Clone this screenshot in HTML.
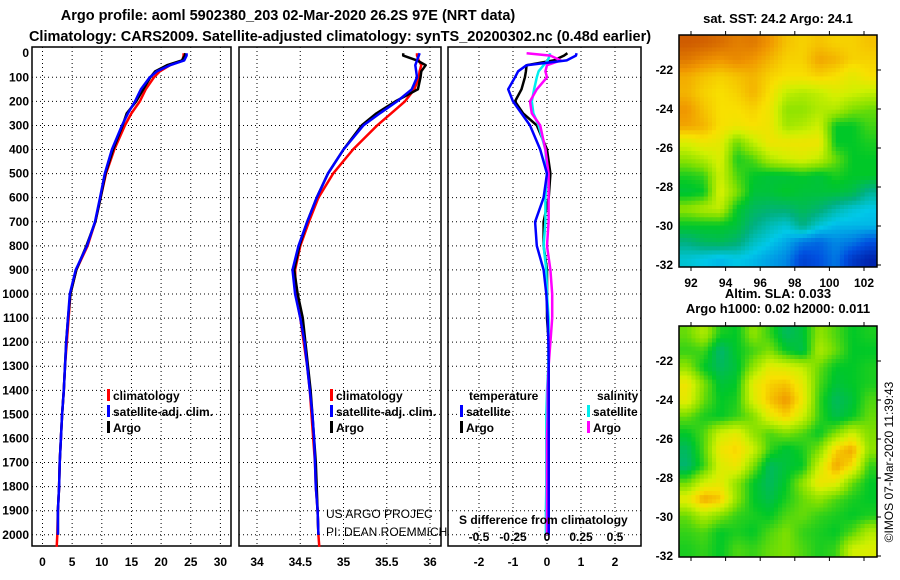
<!DOCTYPE html>
<html><head><meta charset="utf-8"><style>
html,body{margin:0;padding:0;background:#fff;}
svg{display:block;font-family:"Liberation Sans",sans-serif;}
.b{font-weight:bold;font-size:13px;}
.h{font-weight:bold;font-size:14.5px;}
.t{font-weight:bold;font-size:12px;}
</style></head><body>
<svg id="c" width="900" height="580" viewBox="0 0 900 580">
<text class="h" x="288" y="20" text-anchor="middle">Argo profile: aoml 5902380_203 02-Mar-2020 26.2S 97E (NRT data)</text>
<text class="h" x="340" y="41" text-anchor="middle">Climatology: CARS2009. Satellite-adjusted climatology: synTS_20200302.nc (0.48d earlier)</text>
<text class="b" x="778" y="23" text-anchor="middle">sat. SST: 24.2 Argo: 24.1</text>
<text class="b" x="778" y="298" text-anchor="middle">Altim. SLA: 0.033</text>
<text class="b" x="778" y="313" text-anchor="middle">Argo h1000: 0.02 h2000: 0.011</text>
<text x="893" y="462" font-size="12" text-anchor="middle" transform="rotate(-90 893 462)">©IMOS 07-Mar-2020 11:39:43</text>
</svg>
<script>
const depths=[0,10,30,50,75,100,150,200,250,300,400,500,600,700,800,900,1000,1100,1200,1300,1400,1500,1600,1700,1800,1900,2000,2050];
const tempClim=[23.8,23.8,23.6,21.5,19.8,18.8,17.4,16.4,15.0,13.9,12.1,10.7,9.8,8.9,7.6,5.7,4.7,4.4,4.1,3.8,3.6,3.3,3.1,2.9,2.8,2.6,2.5,2.4];
const tempSat=[24.3,24.3,23.9,21.5,19.3,18.1,16.6,15.6,14.4,13.4,11.7,10.5,9.7,8.85,7.5,5.6,4.6,4.3,4.0,3.8,3.6,3.3,3.1,2.9,2.8,2.6,2.6,null];
const tempArgo=[24.1,24.0,23.5,21.0,19.0,18.2,17.0,15.8,14.2,13.5,11.9,10.6,9.8,8.9,7.4,5.7,4.7,4.3,4.0,3.8,3.6,3.3,3.1,2.9,2.8,2.6,2.6,null];
const salClim=[35.85,35.85,35.87,35.9,35.88,35.87,35.82,35.71,35.55,35.39,35.11,34.88,34.71,34.6,34.5,34.44,34.45,34.5,34.54,34.58,34.61,34.63,34.65,34.67,34.68,34.7,34.71,34.72];
const salSat=[35.88,35.87,35.85,35.83,35.84,35.85,35.79,35.62,35.42,35.23,35.0,34.82,34.69,34.58,34.48,34.41,34.44,34.5,34.55,34.58,34.61,34.64,34.66,34.67,34.68,34.7,34.71,null];
const salArgo=[35.69,35.69,35.85,35.95,35.9,35.89,35.86,35.6,35.38,35.21,35.0,34.82,34.69,34.58,34.49,34.43,34.47,34.53,34.56,34.59,34.62,34.64,34.66,34.68,34.69,34.7,34.71,null];
const dTempSat=[0.87,0.85,0.58,-0.6,-0.85,-0.94,-1.14,-1.0,-0.75,-0.5,-0.2,0,-0.1,-0.35,-0.3,-0.1,-0.02,0.02,0.04,0.05,0.05,0.05,0.05,0.05,0.05,0.05,0.05,null];
const dTempArgo=[0.6,0.5,0.2,-0.6,-0.62,-0.65,-0.75,-0.94,-0.7,-0.3,0,0.1,0.05,-0.1,-0.1,0,0,0,0.05,0.05,0.05,0.05,0.05,0.05,0.05,0.05,0.05,null];
const dSalSat=[0.022,0.02,0.005,-0.025,-0.062,-0.075,-0.095,-0.112,-0.1,-0.062,-0.012,0,-0.012,-0.012,-0.025,-0.005,0,0.012,0.012,0.01,0,-0.005,-0.005,-0.005,-0.005,-0.008,-0.008,null];
const dSalArgo=[-0.15,0.025,0.1,0,-0.012,0,-0.075,-0.125,-0.112,-0.05,-0.012,0.012,0.012,0.012,0,0.025,0.038,0.038,0.025,0.012,0.005,0.005,0,0,0,0,0,null];
const depthTicks=[0,100,200,300,400,500,600,700,800,900,1000,1100,1200,1300,1400,1500,1600,1700,1800,1900,2000];
const tempTicks=[0,5,10,15,20,25,30];
const salTicks=[34,34.5,35,35.5,36];
const diffTicks=[-2,-1,0,1,2];
const sDiffTicks=[-0.5,-0.25,0,0.25,0.5];
const sDiffLabels=["-0.5","-0.25","0","0.25","0.5"];
const mapLonTicks=[92,94,96,98,100,102];
const mapLatTicks=[-22,-24,-26,-28,-30,-32];
const sstGrid=[
[.98,.97,.95,.92,.93,.88,.82,.8,.82,.8,.8,.82],
[.93,.9,.88,.9,.88,.84,.8,.8,.86,.84,.8,.8],
[.85,.82,.8,.82,.84,.8,.78,.78,.8,.78,.74,.78],
[.84,.8,.78,.8,.84,.78,.68,.66,.68,.72,.7,.68],
[.88,.82,.78,.78,.8,.76,.62,.62,.66,.66,.6,.58],
[.86,.84,.78,.76,.78,.76,.64,.66,.7,.5,.5,.55],
[.72,.76,.74,.58,.68,.76,.76,.76,.76,.5,.5,.52],
[.62,.66,.72,.52,.56,.66,.7,.72,.68,.58,.5,.5],
[.52,.54,.7,.56,.5,.48,.48,.5,.48,.52,.5,.5],
[.48,.5,.72,.6,.48,.48,.5,.48,.48,.48,.46,.38],
[.62,.66,.68,.5,.44,.42,.42,.45,.42,.36,.32,.3],
[.5,.5,.5,.48,.4,.35,.32,.4,.32,.28,.28,.28],
[.4,.44,.45,.42,.34,.3,.26,.2,.18,.22,.2,.15],
[.32,.3,.28,.3,.28,.25,.22,.12,.15,.2,.1,.05]];
const slaGrid=[
[.58,.66,.52,.5,.62,.54,.44,.48,.62,.56,.5,.52],
[.54,.55,.42,.5,.55,.6,.5,.46,.66,.58,.5,.5],
[.62,.5,.44,.48,.62,.74,.72,.68,.58,.5,.5,.52],
[.76,.6,.48,.5,.74,.8,.82,.74,.56,.48,.5,.52],
[.74,.58,.5,.52,.72,.82,.88,.76,.54,.44,.48,.56],
[.58,.52,.5,.54,.6,.74,.8,.7,.54,.46,.5,.58],
[.5,.56,.7,.74,.62,.56,.6,.56,.5,.6,.7,.6],
[.44,.56,.76,.8,.7,.54,.48,.52,.6,.8,.86,.62],
[.42,.54,.72,.76,.6,.44,.48,.5,.7,.86,.78,.54],
[.58,.7,.74,.62,.5,.44,.5,.62,.76,.74,.58,.5],
[.74,.86,.82,.62,.5,.46,.52,.58,.62,.56,.52,.5],
[.58,.66,.6,.54,.52,.5,.56,.58,.54,.52,.5,.52],
[.54,.56,.5,.52,.5,.56,.6,.54,.52,.5,.56,.66],
[.52,.54,.5,.56,.54,.58,.6,.56,.52,.54,.7,.72]];

const NS="http://www.w3.org/2000/svg";
const svg=document.getElementById('c');
function mk(tag,attrs,parent){const e=document.createElementNS(NS,tag);for(const k in attrs)e.setAttribute(k,attrs[k]);(parent||svg).appendChild(e);return e;}
const yD=d=>53.2+d*0.2408;
const TOP=47,BOT=546;
const panels=[
 {x0:32,x1:231,sx:v=>42.5+v*5.93,ticks:tempTicks,name:'temperature-panel'},
 {x0:239,x1:441,sx:v=>257+(v-34)*86.5,ticks:salTicks,name:'salinity-panel'},
 {x0:448,x1:641,sx:v=>547+v*34,ticks:diffTicks,name:'difference-panel'}];
panels.forEach(p=>{
 const g=mk('g',{});
 
 
 depthTicks.forEach(d=>{if(d>0){const l=mk('line',{x1:p.x0,x2:p.x1,y1:yD(d),y2:yD(d),stroke:'#000','stroke-width':1,'stroke-dasharray':'1,3'},g);
  }});
 p.ticks.forEach(v=>{const x=p.sx(v);const l=mk('line',{x1:x,x2:x,y1:TOP,y2:BOT,stroke:'#000','stroke-width':1,'stroke-dasharray':'1,3'},g);
  
  const t=mk('text',{x:x,y:566,'text-anchor':'middle',class:'t'},g);t.textContent=String(v);
  });
 const r=mk('rect',{x:p.x0,y:TOP,width:p.x1-p.x0,height:BOT-TOP,fill:'none',stroke:'#000','stroke-width':1.5},g);
 
 p.g=g;
});
depthTicks.forEach(d=>{const t=mk('text',{x:29,y:yD(d)+4,'text-anchor':'end',class:'t'});t.textContent=String(d);
 });
function line(p,vals,sx,color,name){
 const pts=[];vals.forEach((v,i)=>{if(v!==null)pts.push(sx(v).toFixed(1)+','+yD(depths[i]).toFixed(1));});
 const pl=mk('polyline',{points:pts.join(' '),fill:'none',stroke:color,'stroke-width':2.5,'stroke-linejoin':'round'},p.g);
 }
const P=panels;
line(P[0],tempClim,P[0].sx,'#f00','temp-climatology-line');
line(P[0],tempArgo,P[0].sx,'#000','temp-argo-line');
line(P[0],tempSat,P[0].sx,'#00f','temp-satellite-line');
line(P[1],salClim,P[1].sx,'#f00','sal-climatology-line');
line(P[1],salArgo,P[1].sx,'#000','sal-argo-line');
line(P[1],salSat,P[1].sx,'#00f','sal-satellite-line');
const sxS=v=>547+v*136;
line(P[2],dTempArgo,P[2].sx,'#000','dtemp-argo-line');
line(P[2],dSalSat,sxS,'#0ee','dsal-satellite-line');
line(P[2],dSalArgo,sxS,'#f0f','dsal-argo-line');
line(P[2],dTempSat,P[2].sx,'#00f','dtemp-satellite-line');
function leg(x,y,color,label,name){
 const g=mk('g',{});
 mk('rect',{x:x,y:y-11,width:3,height:12,fill:color},g);
 const t=mk('text',{x:x+6,y:y,class:'t'},g);t.textContent=label;}
[[107,'p1'],[330,'p2']].forEach(([x,k])=>{
 leg(x,400,'#f00','climatology',k+'-legend-climatology');
 leg(x,416,'#00f','satellite-adj. clim.',k+'-legend-satellite');
 leg(x,432,'#000','Argo',k+'-legend-argo');});
function txt(x,y,s,cls,name,extra){const t=mk('text',Object.assign({x:x,y:y,class:cls},extra||{}));t.textContent=s;
 return t;}
txt(469,400,'temperature','t','legend-temperature-header');
txt(597,400,'salinity','t','legend-salinity-header');
leg(460,416,'#00f','satellite','legend-temp-satellite');
leg(460,432,'#000','Argo','legend-temp-argo');
leg(587,416,'#0ee','satellite','legend-sal-satellite');
leg(587,432,'#f0f','Argo','legend-sal-argo');
txt(326,518,'US ARGO PROJEC','','us-argo-credit',{'font-size':'12'});
txt(326,536,'PI: DEAN ROEMMICH','','pi-credit',{'font-size':'12'});
txt(459,524,'S difference from climatology','t','s-diff-axis-title');
sDiffTicks.forEach((v,i)=>{txt(sxS(v),541,sDiffLabels[i],'t','s-diff-tick-label',{'text-anchor':'middle'});});
const stops=[[0,[0,16,150]],[0.15,[0,80,224]],[0.3,[0,200,232]],[0.4,[0,176,128]],[0.5,[0,200,40]],[0.6,[128,224,0]],[0.7,[208,240,0]],[0.78,[248,224,0]],[0.88,[240,150,0]],[1,[200,80,0]]];
function cmap(v){for(let i=1;i<stops.length;i++){if(v<=stops[i][0]){const a=stops[i-1],b=stops[i],f=(v-a[0])/(b[0]-a[0]);
 return 'rgb('+a[1].map((c,j)=>Math.round(c+(b[1][j]-c)*f)).join(',')+')';}}return 'rgb(200,80,0)';}
function heat(grid,x0,y0,w,h,name,labelsX){
 const g=mk('g',{});
 const R=grid.length,C=grid[0].length,up=4,nr=R*up,nc=C*up,cw=w/nc,ch=h/nr;
 const at=(r,c)=>grid[Math.max(0,Math.min(R-1,r))][Math.max(0,Math.min(C-1,c))];
 for(let i=0;i<nr;i++)for(let j=0;j<nc;j++){
  const fr=(i+0.5)/up-0.5,fc=(j+0.5)/up-0.5,r0=Math.floor(fr),c0=Math.floor(fc),dr=fr-r0,dc=fc-c0;
  const v=at(r0,c0)*(1-dr)*(1-dc)+at(r0,c0+1)*(1-dr)*dc+at(r0+1,c0)*dr*(1-dc)+at(r0+1,c0+1)*dr*dc;
  const cell=mk('rect',{x:(x0+j*cw).toFixed(2),y:(y0+i*ch).toFixed(2),width:(cw+0.4).toFixed(2),height:(ch+0.4).toFixed(2),fill:cmap(v)},g);
  }
 mk('rect',{x:x0,y:y0,width:w,height:h,fill:'none',stroke:'#000','stroke-width':1.5},g);
 const lonX=v=>x0+12+(v-92)*17.3, latY=v=>y0+35+(-22-v)*19.5;
 mapLonTicks.forEach(v=>{const x=lonX(v);mk('line',{x1:x,x2:x,y1:y0-4,y2:y0,stroke:'#000'},g);mk('line',{x1:x,x2:x,y1:y0+h,y2:y0+h+4,stroke:'#000'},g);
  if(labelsX){const t=mk('text',{x:x,y:y0+h+20,'text-anchor':'middle',class:'t'},g);t.textContent=String(v);
  }});
 mapLatTicks.forEach(v=>{const y=latY(v);mk('line',{x1:x0+w,x2:x0+w+4,y1:y,y2:y,stroke:'#000'},g);
  const t=mk('text',{x:x0-6,y:y+4,'text-anchor':'end',class:'t'},g);t.textContent=String(v);
  });
}
heat(sstGrid,679,35,198,232,'sst-map',true);
heat(slaGrid,679,326,198,231,'sla-map',false);
</script>
</body></html>
